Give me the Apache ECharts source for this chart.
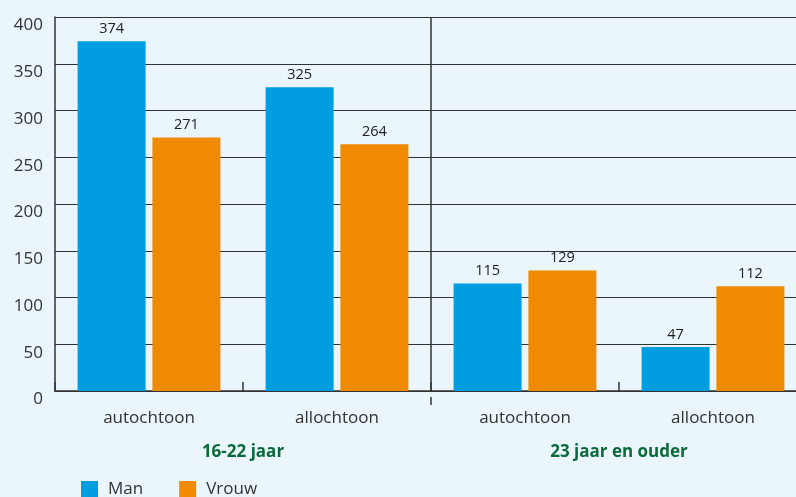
<!DOCTYPE html>
<html>
<head>
<meta charset="utf-8">
<script src="https://cdn.jsdelivr.net/npm/echarts@6/dist/echarts.min.js"></script>
<style>
  html, body { margin: 0; padding: 0; background: #eaf5fc; }
  #chart { width: 796px; height: 497px; }
</style>
</head>
<body>
<div id="chart"></div>
<script>
const categories = ['autochtoon', 'allochtoon', 'autochtoon', 'allochtoon']
// group labels sit between the category centres, so pad with empty slots
const groups = ['', '16-22 jaar', '', '23 jaar en ouder', '']
const man = [374, 325, 115, 47]
const vrouw = [271, 264, 129, 112]
const seriesNames = ['Man', 'Vrouw']

const font = '"Open Sans", "Noto Sans", sans-serif'
const lineColor = '#333'

const chart = echarts.init(document.getElementById('chart'))
chart.setOption({
  backgroundColor: '#eaf5fc',
  animation: false,
  textStyle: { fontFamily: font },
  grid: {
    left: 55,
    right: -11,
    top: 17,
    bottom: 106,
    containLabel: false,
    outerBoundsMode: 'none'
  },
  legend: {
    left: 76,
    top: 476,
    itemWidth: 17,
    itemHeight: 17,
    itemGap: 36,
    icon: 'rect',
    textStyle: { fontSize: 17, color: '#333', fontFamily: font, padding: [5, 0, 0, 5] },
    data: seriesNames
  },
  xAxis: [
    {
      type: 'category',
      data: categories,
      axisLine: { lineStyle: { color: lineColor, width: 1.5 } },
      axisTick: { show: true, inside: true, length: 9, lineStyle: { color: lineColor, width: 1.5 } },
      axisLabel: { fontSize: 17, color: '#333', margin: 19, fontFamily: font }
    },
    {
      type: 'category',
      data: groups,
      boundaryGap: false,
      position: 'bottom',
      offset: 6,
      axisLine: { show: false },
      axisTick: {
        show: true,
        length: 8,
        interval: (i) => i === 2,
        lineStyle: { color: lineColor, width: 1.5 }
      },
      splitLine: {
        show: true,
        interval: (i) => i === 2,
        lineStyle: { color: lineColor, width: 1.5 }
      },
      axisLabel: { interval: 0, fontSize: 17, fontWeight: 'bold', color: '#0b6a3a', margin: 47, fontFamily: font }
    }
  ],
  yAxis: {
    type: 'value',
    min: 0,
    max: 400,
    interval: 50,
    axisLine: { show: true, lineStyle: { color: lineColor, width: 1.5 } },
    axisTick: { show: false },
    axisLabel: { fontSize: 17, color: '#333', margin: 12, verticalAlign: 'top', padding: [0, 0, 0, 0], fontFamily: font },
    splitLine: { lineStyle: { color: lineColor, width: 1.2 } }
  },
  series: [
    {
      name: seriesNames[0],
      type: 'bar',
      data: man,
      barWidth: 68,
      barGap: '10%',
      itemStyle: { color: '#009ee0' },
      label: { show: true, position: 'top', distance: 5, fontSize: 14.5, color: '#222', fontFamily: font }
    },
    {
      name: seriesNames[1],
      type: 'bar',
      data: vrouw,
      barWidth: 68,
      barGap: '10%',
      itemStyle: { color: '#f08a00' },
      label: { show: true, position: 'top', distance: 5, fontSize: 14.5, color: '#222', fontFamily: font }
    }
  ]
})
</script>
</body>
</html>
